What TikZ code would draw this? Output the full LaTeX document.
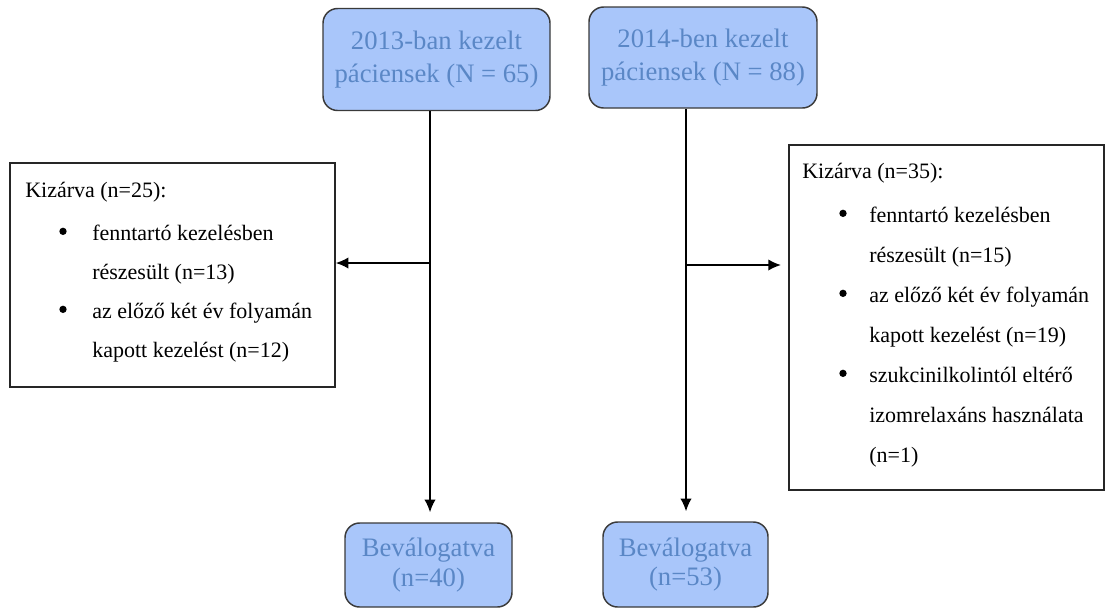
\documentclass[tikz,border=0pt]{standalone}
\usepackage{fontspec}
\setmainfont{Liberation Serif}
\usetikzlibrary{arrows.meta}
\definecolor{boxblue}{HTML}{A9C6FA}
\definecolor{textblue}{HTML}{5A87C6}
\definecolor{edgegray}{HTML}{3A3A3A}
\tikzset{
	patbox/.style={draw=edgegray, fill=boxblue, rounded corners=11pt, line width=1.1pt,
		text=textblue, align=center, inner sep=0pt, font=\fontsize{20}{25}\selectfont},
	exclbox/.style={draw=black!85, line width=1.1pt},
	txt/.style={anchor=base west, inner sep=0pt, font=\fontsize{16.5}{20}\selectfont},
	bul/.style={circle, fill=black, inner sep=0pt, minimum size=5.5pt, yshift=6.5pt},
	flow/.style={line width=1.1pt, -{Latex[length=9.5pt,width=8.5pt]}},
}
\begin{document}
\begin{tikzpicture}[x=0.75pt,y=-0.75pt]
	\useasboundingbox (0,0) rectangle (1106,608);
	% patient groups
	\node[patbox, minimum width=170.25pt, minimum height=76.5pt] (y13) at (436.5,59.5) {2013-ban kezelt\\páciensek (N = 65)};
	\node[patbox, minimum width=171pt, minimum height=75.75pt] (y14) at (703,57.5) {2014-ben kezelt\\páciensek (N = 88)};
	\node[patbox, font=\fontsize{20}{22}\selectfont, minimum width=125.25pt, minimum height=63pt] (b13) at (428.5,565) {Beválogatva\\(n=40)};
	\node[patbox, font=\fontsize{20}{22}\selectfont, minimum width=123.75pt, minimum height=63.75pt] (b14) at (685.5,564.5) {Beválogatva\\(n=53)};
	% excluded
	\node[exclbox, minimum width=243.75pt, minimum height=168pt] (k13) at (172.5,275) {};
	\node[exclbox, minimum width=236.25pt, minimum height=258.75pt] (k14) at (946.5,317.5) {};
	\node[txt] (k13h) at (25,197) {Kizárva (n=25):};
	\node[bul] (k13b1) at (63,240) {};
	\node[txt] (k13a) at (92,240) {fenntartó kezelésben};
	\node[txt] (k13c) at (92,279) {részesült (n=13)};
	\node[bul] (k13b2) at (63,318) {};
	\node[txt] (k13d) at (92,318) {az előző két év folyamán};
	\node[txt] (k13e) at (92,357) {kapott kezelést (n=12)};
	\node[txt] (k14h) at (802,178) {Kizárva (n=35):};
	\node[bul] (k14b1) at (843,222) {};
	\node[txt] (k14a) at (869,222) {fenntartó kezelésben};
	\node[txt] (k14c) at (869,262) {részesült (n=15)};
	\node[bul] (k14b2) at (843,302) {};
	\node[txt] (k14d) at (869,302) {az előző két év folyamán};
	\node[txt] (k14e) at (869,342) {kapott kezelést (n=19)};
	\node[bul] (k14b3) at (843,382) {};
	\node[txt] (k14f) at (869,382) {szukcinilkolintól eltérő};
	\node[txt] (k14g) at (869,422) {izomrelaxáns használata};
	\node[txt] (k14i) at (869,462) {(n=1)};
	% connectors
	\coordinate (s13) at (430,263);
	\coordinate (s14) at (686,265);
	\draw[line width=1.1pt] (y13.south -| s13) -- (s13);
	\draw[flow] (s13) -- (s13 -| k13.east);
	\draw[flow, shorten >=7.5pt] (s13) -- (s13 |- b13.north);
	\draw[line width=1.1pt] (y14.south -| s14) -- (s14);
	\draw[flow, shorten >=5.5pt] (s14) -- (s14 -| k14.west);
	\draw[flow, shorten >=7.5pt] (s14) -- (s14 |- b14.north);
\end{tikzpicture}
\end{document}
